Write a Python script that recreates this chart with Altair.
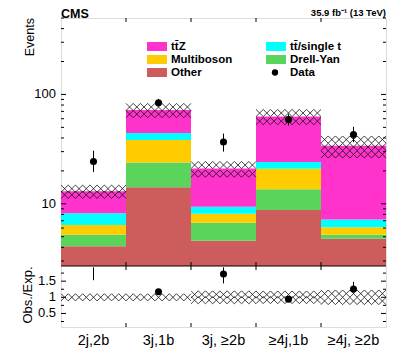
import altair as alt
import pandas as pd
import numpy as np

# ---------------- data ----------------
categories = ["2j,2b", "3j,1b", "3j, \u22652b", "\u22654j,1b", "\u22654j, \u22652b"]
processes = ["Other", "Drell-Yan", "Multiboson", "tt\u0304/single t", "tt\u0304Z"]
colors = ["#cd5c5c", "#5ad45a", "#ffcc00", "#00ffff", "#ff33cc"]

other = [4.1, 14.2, 4.6, 8.8, 4.8]
drellyan = [1.1, 9.7, 2.1, 4.8, 0.4]
multiboson = [1.2, 14.5, 1.4, 7.3, 0.9]
ttbar = [1.8, 6.1, 1.3, 3.2, 1.1]
ttz = [4.8, 27.5, 11.6, 38.9, 26.8]

unc_frac = [0.13, 0.15, 0.18, 0.17, 0.23]

data_val = [24.4, 84.0, 36.8, 59.0, 43.0]
data_lo = [19.5, 78.0, 30.0, 52.0, 36.6]
data_hi = [30.6, 91.0, 43.9, 66.0, 50.6]

ratio_val = [np.nan, 1.17, 1.72, 0.94, 1.26]
ratio_lo = [1.53, 1.10, 1.43, 0.90, 1.15]
ratio_hi = [1.93, 1.25, 1.93, 0.98, 1.48]

y_major = [10, 100]
y_minor = [3, 4, 5, 6, 7, 8, 9, 20, 30, 40, 50, 60, 70, 80, 90, 200, 300, 400, 500]
r_major = [0.5, 1.0, 1.5]
r_minor = [0.25, 0.75, 1.25, 1.75]

# ---------------- geometry ----------------
W, H1, H2 = 325, 248, 61
H = H1 + H2
YDOM = [2.7, 500]
RDOM = [0.08, 1.97]
nb = len(categories)
edges = list(range(nb + 1))

xs = alt.Scale(domain=[0, nb], nice=False, zero=False)
ys = alt.Scale(type="log", domain=YDOM, range=[H1, 0], nice=False)
rs = alt.Scale(domain=RDOM, range=[H, H1], nice=False, zero=False)

# stacked rectangles
series = [other, drellyan, multiboson, ttbar, ttz]
rows = []
for i in range(nb):
    cum = 0.0
    for p, vals in zip(processes, series):
        lo = cum if cum > 0 else YDOM[0]
        cum += vals[i]
        rows.append(dict(proc=p, x0=edges[i], x1=edges[i + 1], y0=lo, y1=cum))
stack_df = pd.DataFrame(rows)
totals = [sum(s[i] for s in series) for i in range(nb)]

# hatch grids (crosses) for uncertainty bands
D = 7.2
ncol = int(round((W / nb) / D))


def hatch(lows, highs, log, px_per_unit):
    pts = []
    for i in range(nb):
        lo, hi = lows[i], highs[i]
        a, b = (np.log10(lo), np.log10(hi)) if log else (lo, hi)
        span = (b - a) * px_per_unit
        nrow = max(1, int(round(span / D)))
        for j in range(nrow):
            t = a + (j + 0.5) * (b - a) / nrow
            yv = 10 ** t if log else t
            for k in range(ncol):
                pts.append(dict(x=edges[i] + (k + 0.5) / ncol, y=yv))
    return pd.DataFrame(pts)


px_dec = H1 / (np.log10(YDOM[1]) - np.log10(YDOM[0]))
px_r = H2 / (RDOM[1] - RDOM[0])
up_lo = [totals[i] * (1 - unc_frac[i]) for i in range(nb)]
up_hi = [totals[i] * (1 + unc_frac[i]) for i in range(nb)]
hatch_up = hatch(up_lo, up_hi, True, px_dec)
hatch_r = hatch([1 - f for f in unc_frac], [1 + f for f in unc_frac], False, px_r)

centers = [e + 0.5 for e in edges[:-1]]
data_df = pd.DataFrame(dict(x=centers, y=data_val, lo=data_lo, hi=data_hi))
ratio_df = pd.DataFrame(dict(x=centers, y=ratio_val, lo=ratio_lo, hi=ratio_hi))

XSHAPE = "M-1,-1L1,1M-1,1L1,-1"
FONT = "Liberation Sans"
XENC = alt.X("x:Q", scale=xs, axis=None)


def yticks(major, minor, scale):
    t = []
    for v in major:
        t += [dict(v=v, a=0, b=5), dict(v=v, a=W, b=W - 5)]
    for v in minor:
        t += [dict(v=v, a=0, b=3), dict(v=v, a=W, b=W - 3)]
    return alt.Chart(pd.DataFrame(t)).mark_rule(color="black", strokeWidth=1).encode(
        y=alt.Y("v:Q", scale=scale, axis=None),
        x=alt.X("a:Q", scale=None),
        x2="b:Q",
    )


def ylabels(major, scale, fmt):
    df = pd.DataFrame(dict(v=major, t=[fmt(v) for v in major]))
    return alt.Chart(df).mark_text(align="right", baseline="middle", fontSize=13, font=FONT,
                                   color="black").encode(
        y=alt.Y("v:Q", scale=scale, axis=None), x=alt.value(-5), text="t:N")


def xticks():
    t = []
    for e in edges[1:-1]:
        for a, b in [(0, 4), (H1, H1 - 4), (H1, H1 + 4), (H, H - 4)]:
            t.append(dict(x=e, a=a, b=b))
    return alt.Chart(pd.DataFrame(t)).mark_rule(color="black", strokeWidth=1).encode(
        x=XENC, y=alt.Y("a:Q", scale=None), y2="b:Q")


# ---------------- upper panel ----------------
bars = alt.Chart(stack_df).mark_rect().encode(
    x=alt.X("x0:Q", scale=xs, axis=None),
    x2="x1:Q",
    y=alt.Y("y1:Q", scale=ys, axis=None),
    y2="y0:Q",
    color=alt.Color("proc:N", scale=alt.Scale(domain=processes, range=colors), legend=None),
)

hup = alt.Chart(hatch_up).mark_point(shape=XSHAPE, size=D * D, filled=False, color="#111",
                                     strokeWidth=0.8, opacity=1).encode(
    x=XENC, y=alt.Y("y:Q", scale=ys, axis=None))

err_up = alt.Chart(data_df).mark_rule(color="black", strokeWidth=1).encode(
    x=XENC, y=alt.Y("lo:Q", scale=ys, axis=None), y2="hi:Q")
pts_up = alt.Chart(data_df).mark_point(shape="circle", filled=True, size=50, color="black",
                                       opacity=1).encode(
    x=XENC, y=alt.Y("y:Q", scale=ys, axis=None))

# legend
leg_rows = [
    dict(label=processes[4], color=colors[4], col=0, row=0, kind="box"),
    dict(label=processes[3], color=colors[3], col=1, row=0, kind="box"),
    dict(label=processes[2], color=colors[2], col=0, row=1, kind="box"),
    dict(label=processes[1], color=colors[1], col=1, row=1, kind="box"),
    dict(label=processes[0], color=colors[0], col=0, row=2, kind="box"),
    dict(label="Data", color="black", col=1, row=2, kind="dot"),
]
leg = pd.DataFrame(leg_rows)
leg["sx0"] = 86 + leg["col"] * 119
leg["sx1"] = leg["sx0"] + 20
leg["yc"] = 28.5 + leg["row"] * 13
leg["sy0"] = leg["yc"] - 4.5
leg["sy1"] = leg["yc"] + 4.5
leg["tx"] = leg["sx0"] + 24
leg["dx"] = leg["sx0"] + 9

leg_box = alt.Chart(leg[leg.kind == "box"]).mark_rect().encode(
    x=alt.X("sx0:Q", scale=None), x2="sx1:Q",
    y=alt.Y("sy0:Q", scale=None), y2="sy1:Q",
    color=alt.Color("color:N", scale=None))
leg_dot = alt.Chart(leg[leg.kind == "dot"]).mark_point(shape="circle", filled=True, size=40,
                                                      color="black", opacity=1).encode(
    x=alt.X("dx:Q", scale=None), y=alt.Y("yc:Q", scale=None))
leg_txt = alt.Chart(leg).mark_text(align="left", baseline="middle", fontSize=11.5,
                                   fontWeight="bold", font=FONT, color="black").encode(
    x=alt.X("tx:Q", scale=None), y=alt.Y("yc:Q", scale=None), text="label:N")

cms = alt.Chart(pd.DataFrame(dict(t=["CMS"]))).mark_text(
    align="left", baseline="top", fontSize=12.5, fontWeight="bold", font=FONT,
    color="black").encode(x=alt.value(0), y=alt.value(-10), text="t:N")
lumi = alt.Chart(pd.DataFrame(dict(t=["35.9 fb\u207b\u00b9 (13 TeV)"]))).mark_text(
    align="right", baseline="alphabetic", fontSize=9.5, fontWeight="bold", font=FONT,
    color="black").encode(x=alt.value(W), y=alt.value(-2), text="t:N")
ev = alt.Chart(pd.DataFrame(dict(t=["Events"]))).mark_text(
    align="right", baseline="middle", angle=270, fontSize=12.5, font=FONT,
    color="black").encode(x=alt.value(-31), y=alt.value(0), text="t:N")

# ---------------- ratio panel ----------------
hr = alt.Chart(hatch_r).mark_point(shape=XSHAPE, size=D * D, filled=False, color="#111",
                                   strokeWidth=0.8, opacity=1).encode(
    x=XENC, y=alt.Y("y:Q", scale=rs, axis=None))
err_r = alt.Chart(ratio_df).mark_rule(color="black", strokeWidth=1).encode(
    x=XENC, y=alt.Y("lo:Q", scale=rs, axis=None), y2="hi:Q")
pts_r = alt.Chart(ratio_df).mark_point(shape="circle", filled=True, size=50, color="black",
                                       opacity=1).encode(
    x=XENC, y=alt.Y("y:Q", scale=rs, axis=None))

sep = alt.Chart(pd.DataFrame(dict(v=[1]))).mark_rule(color="black", strokeWidth=1).encode(
    x=alt.value(0), x2=alt.value(W), y=alt.value(H1))

cat_df = pd.DataFrame(dict(x=centers, t=categories))
cat_txt = alt.Chart(cat_df).mark_text(baseline="alphabetic", align="center", fontSize=14.5,
                                      font=FONT, color="black").encode(
    x=XENC, y=alt.value(H + 18), text="t:N")
oe = alt.Chart(pd.DataFrame(dict(t=["Obs./Exp."]))).mark_text(
    align="center", baseline="middle", angle=270, fontSize=13, font=FONT,
    color="black").encode(x=alt.value(-33), y=alt.value(H1 + 29), text="t:N")

chart = alt.layer(
    bars, hup, err_up, pts_up,
    hr, err_r, pts_r,
    yticks(y_major, y_minor, ys), ylabels(y_major, ys, lambda v: str(int(v))),
    yticks(r_major, r_minor, rs), ylabels(r_major, rs, lambda v: f"{v:g}"),
    xticks(), sep,
    leg_box, leg_dot, leg_txt, cms, lumi, ev, cat_txt, oe,
).resolve_scale(y="independent").properties(
    width=W, height=H,
    autosize=alt.AutoSizeParams(type="none"),
    padding={"left": 53, "top": 10, "right": 13, "bottom": 21},
).configure_view(stroke="black", strokeWidth=1).configure(background="white")

chart.save("out.html", embed_options={"renderer": "svg", "actions": False})
